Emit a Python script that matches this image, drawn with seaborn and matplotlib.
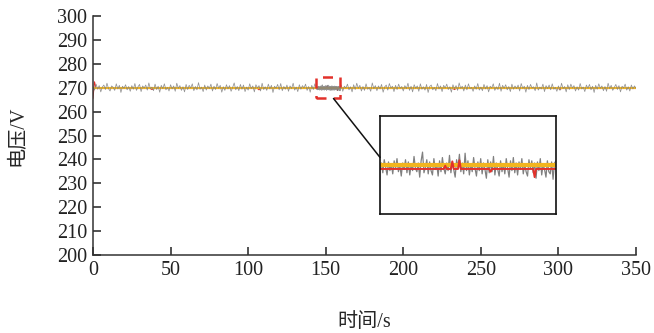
import numpy as np
import pandas as pd
import seaborn as sns
import matplotlib
matplotlib.use("Agg")
from matplotlib import pyplot as plt
from matplotlib.patches import Rectangle, ConnectionPatch

# grey measured voltage: deviation from 270 V in steps of 0.125 V, one sample per second (0..350 s)
grey_dev = [
    3, -8, 12, -5, 7, -14, 2, 9, -6, 15, -3, -11, 6, 1, -9, 13, -4, 8, -16, 5, -2, 10, -7, 4, -12,
    7, -5, 14, -9, 3, 11, -13, 6, -1, 9, -8, 16, -4, 2, -10, 12, -6, 5, -15, 8, -3, 13, -7, 1, -11,
    10, -4, 6, -12, 15, -2, 7, -9, 3, -14, 11, -6, 8, -1, 13, -10, 4, -7, 17, -5, 2, -13, 9, -8, 6,
    -3, 12, -11, 5, -6, 14, -2, 8, -15, 3, -9, 10, -4, 7, -12, 1, 16, -7, 4, -10, 11, -5, 9, -13, 2,
    -8, 13, -3, 6, -14, 10, -1, 7, -11, 15, -6, 3, -9, 12, -4, 8, -16, 5, -2, 11, -7, 14, -10, 4, -5,
    9, -12, 6, -3, 15, -8, 2, -13, 10, -5, 7, -1, 12, -9, 4, -15, 8, -6, 13, -2, 5, -11, 16, -7, 3,
    -10, 11, -4, 7, -13, 2, 14, -8, 6, -3, 9, -12, 5, -1, 12, -7, 3, -14, 10, -6, 15, -2, 8, -11, 4,
    -9, 13, -5, 1, -12, 16, -3, 7, -10, 6, -4, 11, -15, 2, 9, -8, 14, -1, 5, -13, 8, -6, 12, -2, 4,
    -11, 7, -3, 15, -9, 5, -14, 10, -2, 6, -12, 13, -5, 3, -8, 11, -16, 4, 9, -7, 1, -10, 14, -4, 6,
    -13, 8, -1, 12, -6, 3, -15, 10, -4, 7, -9, 16, -2, 5, -11, 9, -7, 13, -3, 1, -12, 6, -5, 14, -8,
    2, -10, 11, -4, 7, -14, 5, -1, 13, -9, 3, -6, 15, -12, 8, -2, 10, -7, 4, -13, 12, -5, 6, -3, 9,
    -11, 14, -2, 5, -15, 8, -6, 11, -1, 3, -10, 16, -8, 2, -4, 12, -13, 7, -3, 9, -7, 13, -5, 1, -12,
    6, -9, 15, -3, 4, -14, 10, -6, 12, -1, 7, -11, 3, -8, 14, -4, 2, -13, 9, -2, 11, -7, 5, -16, 8,
    -5, 13, -2, 6, -10, 4, -12, 15, -3, 8, -9, 1, 11, -6, 7, -14, 5, -1, 12, -8, 3, -11, 9, -4, 6,
    -2,
]
grey_unit = 0.125

# finer grey samples inside the zoom window (0.1 V steps), 0.125 s apart from 144.0 s
fine_start = 144.0
fine_step = 0.125
grey_fine_dev = [
    -4, 2, -7, 5, -2, -9, 3, -5, 1, -8, 4, -3, 6, -6, 0, -10, 2, -4, 5, -7,
    3, -9, 1, -5, 8, -3, -6, 2, -11, 4, 12, -7, -2, 5, -8, 3, -5, -9, 6, -4,
    1, -10, 4, -6, 7, -3, -8, 2, -5, 9, -7, 3, -4, -11, 5, -2, 10, -6, 2, -8,
    11, -5, 4, -9, 1, -6, 7, -3, -10, 3, -5, 6, -8, 2, -4, -12, 5, -7, 3, -6,
    8, -9, 2, -4, -10, 4, -6, 1, -8, 6, -3, -11, 4, -5, 7, -7, 2, -9, 3, -4,
    6, -8, 1, -6, -10, 5, -3, 4, -7, 2, -12, 3, -5, 6, -9, 1, -4, -11, 4, -6,
    -8, 3, -13, 2,
]
fine_unit = 0.1

# reference (yellow) and filtered (red) voltage
ref_voltage = 270.0
red_base = 269.65
red_spike_t = [0, 1, 38, 72, 107, 149.8, 150.4, 151.0, 153.8, 157.6, 188, 233, 268, 301, 338]
red_spike_v = [265.5, 272.5, 269.2, 270.2, 269.1, 269.95, 270.35, 270.45, 269.4, 268.9,
               270.2, 269.2, 270.1, 269.3, 270.2]

x_ticks = [0, 50, 100, 150, 200, 250, 300, 350]
y_ticks = [200, 210, 220, 230, 240, 250, 260, 270, 280, 290, 300]
zoom_x = (144, 159.5)
zoom_y = (265.5, 274.5)

# build the series
t_main = np.arange(len(grey_dev), dtype=float)
t_fine = fine_start + fine_step * np.arange(len(grey_fine_dev))
keep = (t_main < t_fine[0]) | (t_main > t_fine[-1])
t_all = np.concatenate([t_main[keep], t_fine])
v_all = np.concatenate([ref_voltage + np.array(grey_dev, float)[keep] * grey_unit,
                        ref_voltage + np.array(grey_fine_dev, float) * fine_unit])
order = np.argsort(t_all)
grey = pd.DataFrame({"t": t_all[order], "v": v_all[order]})

red_v = np.full(len(grey), red_base)
for ts, vs in zip(red_spike_t, red_spike_v):
    red_v[np.argmin(np.abs(grey["t"].values - ts))] = vs
red = pd.DataFrame({"t": grey["t"], "v": red_v})
yellow = pd.DataFrame({"t": [0, 350], "v": [ref_voltage, ref_voltage]})

sns.set_theme(style="ticks")
plt.rcParams["font.family"] = ["Liberation Serif", "Noto Sans CJK SC"]
plt.rcParams["axes.unicode_minus"] = False

fig = plt.figure(figsize=(6.54, 3.33), dpi=100)
ax = fig.add_axes([0.1422, 0.234, 0.8303, 0.718])

grey_c, yellow_c, red_c = "#808080", "#f2b51f", "#e2312b"


def line(axis, df, color, lw, alpha=1.0):
    sns.lineplot(data=df, x="t", y="v", ax=axis, color=color, lw=lw, alpha=alpha,
                 estimator=None, sort=False, legend=False)


# main plot: red underneath, grey noise over the yellow reference
line(ax, red, red_c, 0.7)
line(ax, yellow, yellow_c, 1.5)
line(ax, grey, grey_c, 0.55, 0.85)
ax.set_xlim(0, 350)
ax.set_ylim(200, 300)
ax.set_xticks(x_ticks)
ax.set_yticks(y_ticks)
ax.tick_params(direction="in", length=6, width=1.1, labelsize=14.5, pad=4, colors="#222222")
for s in ["top", "right"]:
    ax.spines[s].set_visible(False)
for s in ["left", "bottom"]:
    ax.spines[s].set_linewidth(1.1)
    ax.spines[s].set_color("#333333")
ax.set_xlabel("时间/s", fontsize=14.5, labelpad=24)
ax.set_ylabel("电压/V", fontsize=14.5, labelpad=21)

# zoom window marker
ax.add_patch(Rectangle((zoom_x[0], zoom_y[0]), zoom_x[1] - zoom_x[0], zoom_y[1] - zoom_y[0],
                       fill=False, ec=red_c, lw=1.8, ls=(0, (4, 3)), zorder=5))

# inset
axin = fig.add_axes([0.581, 0.357, 0.269, 0.294])
line(axin, grey, grey_c, 0.9)
line(axin, yellow, yellow_c, 3.0)
line(axin, red, red_c, 1.4)
axin.set_xlim(*zoom_x)
axin.set_ylim(*zoom_y)
axin.set_xticks([])
axin.set_yticks([])
axin.set_xlabel("")
axin.set_ylabel("")
for s in axin.spines.values():
    s.set_linewidth(1.2)
    s.set_color("#111111")

con = ConnectionPatch(xyA=(155, zoom_y[0]), coordsA=ax.transData,
                      xyB=(0, 0.58), coordsB=axin.transAxes,
                      color="#111111", lw=1.1)
fig.add_artist(con)

fig.savefig("out.png", dpi=100)
